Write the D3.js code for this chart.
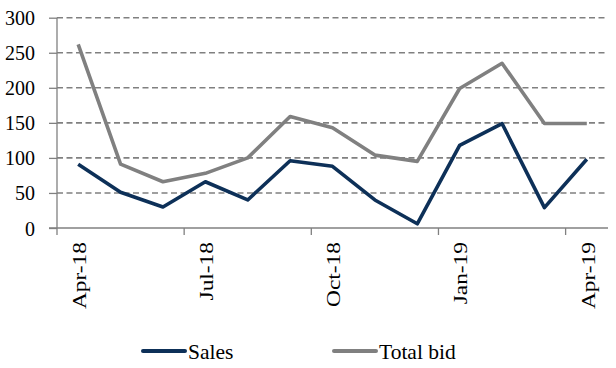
<!DOCTYPE html>
<html>
<head>
<meta charset="utf-8">
<script src="https://cdn.jsdelivr.net/npm/d3@7/dist/d3.min.js"></script>
<style>
  html, body { margin: 0; padding: 0; background: #ffffff; }
  svg { display: block; }
</style>
</head>
<body>
<svg id="chart" width="616" height="368"></svg>
<script>
const months = ["Apr-18","May-18","Jun-18","Jul-18","Aug-18","Sep-18","Oct-18","Nov-18","Dec-18","Jan-19","Feb-19","Mar-19","Apr-19"];
const sales = [91, 51, 30, 66, 40, 96, 88, 40, 6, 118, 149, 29, 98];
const totalBid = [262, 91, 66, 78, 100, 159, 143, 104, 95, 199, 235, 149, 149];
const yTicks = [0, 50, 100, 150, 200, 250, 300];
const xLabelIdx = [0, 3, 6, 9, 12];
const seriesNames = ["Sales", "Total bid"];
const seriesColors = ["#0d3058", "#808080"];
const FONT = "Liberation Serif";

const svg = d3.select("#chart");
const x = d3.scaleBand().domain(months).range([57, 608]).padding(0);
const y = d3.scaleLinear().domain([0, 300]).range([228, 17.7]);
const cx = m => x(m) + x.bandwidth() / 2;

// gridlines
svg.append("g").selectAll("line").data(yTicks.filter(t => t > 0)).join("line")
  .attr("x1", 57).attr("x2", 608)
  .attr("y1", d => y(d)).attr("y2", d => y(d))
  .attr("stroke", "#808080").attr("stroke-width", 1.6)
  .attr("stroke-dasharray", "6,3.5");

// y axis
const yAxis = d3.axisLeft(y).tickValues(yTicks).tickSize(8).tickPadding(14);
const gy = svg.append("g").attr("transform", "translate(57,0)").call(yAxis);
gy.attr("font-family", FONT).attr("font-size", 20);
gy.select(".domain").attr("stroke", "#808080").attr("stroke-width", 1.3).attr("d", `M0,${y(300)}V${y(0)}`);
gy.selectAll(".tick line").attr("stroke", "#808080").attr("stroke-width", 1.3);
gy.selectAll(".tick text")
  .attr("font-family", FONT).attr("font-size", 20)
  .attr("fill", "#000").attr("dy", "0.35em");

// x axis line
svg.append("line").attr("x1", 49).attr("x2", 608).attr("y1", y(0)).attr("y2", y(0))
  .attr("stroke", "#808080").attr("stroke-width", 1.3);
// x ticks at band boundaries every 3 months
svg.append("g").selectAll("line").data(xLabelIdx).join("line")
  .attr("x1", i => x(months[i])).attr("x2", i => x(months[i]))
  .attr("y1", y(0)).attr("y2", y(0) + 7)
  .attr("stroke", "#808080").attr("stroke-width", 1.3);
// x labels rotated
svg.append("g").selectAll("text").data(xLabelIdx).join("text")
  .attr("transform", i => `translate(${cx(months[i]) + 1},242) rotate(-90) scale(1.2,1)`)
  .attr("text-anchor", "end").attr("dy", "0.35em")
  .attr("font-family", FONT).attr("font-size", 19.5)
  .attr("fill", "#000")
  .text(i => months[i]);

// lines
const line = d3.line().x((d, i) => cx(months[i])).y(d => y(d));
[sales, totalBid].forEach((s, k) => {
  svg.append("path").datum(s).attr("d", line)
    .attr("fill", "none").attr("stroke", seriesColors[k])
    .attr("stroke-width", 3.6).attr("stroke-linejoin", "round").attr("stroke-linecap", "butt");
});
// legend
const legX = [143, 334];
seriesNames.forEach((n, k) => {
  svg.append("line").attr("x1", legX[k]).attr("x2", legX[k] + 42).attr("y1", 351).attr("y2", 351)
    .attr("stroke", seriesColors[k]).attr("stroke-width", 4).attr("stroke-linecap", "round");
  svg.append("text").attr("x", legX[k] + 45).attr("y", 351).attr("dy", "0.35em")
    .attr("font-family", FONT).attr("font-size", 21.5).attr("fill", "#000").text(n);
});
</script>
</body>
</html>
